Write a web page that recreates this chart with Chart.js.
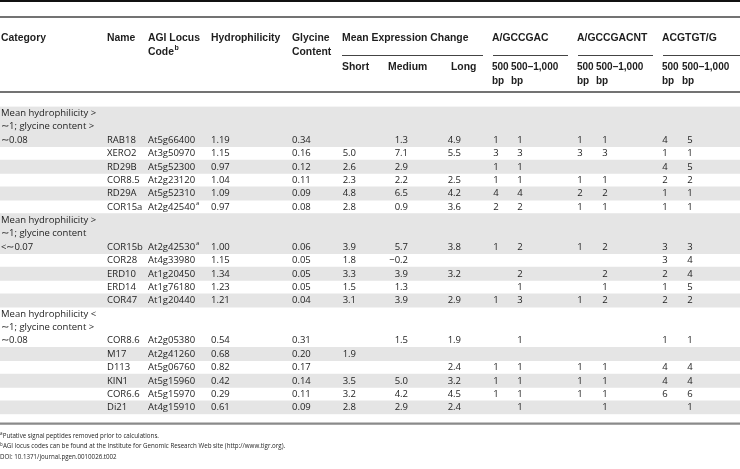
<!DOCTYPE html>
<html>
<head>
<meta charset="utf-8">
<script src="https://cdn.jsdelivr.net/npm/chart.js@4.4.0/dist/chart.umd.min.js"></script>
<style>
  html, body { margin: 0; padding: 0; background: #fff; }
  #wrap { width: 740px; height: 469px; }
</style>
</head>
<body>
<div id="wrap"><canvas id="tableChart"></canvas></div>
<script>
// Table data
var groupLabels = [
    ["Mean hydrophilicity >", "\u223C1; glycine content >", "\u223C0.08"],
    ["Mean hydrophilicity >", "\u223C1; glycine content", "<\u223C0.07"],
    ["Mean hydrophilicity <", "\u223C1; glycine content >", "\u223C0.08"]
];
var groupSizes = [6, 5, 6];

var names = ["RAB18", "XERO2", "RD29B", "COR8.5", "RD29A", "COR15a",
    "COR15b", "COR28", "ERD10", "ERD14", "COR47",
    "COR8.6", "M17", "D113", "KIN1", "COR6.6", "Di21"];
var locusCodes = ["At5g66400", "At3g50970", "At5g52300", "At2g23120", "At5g52310", "At2g42540",
    "At2g42530", "At4g33980", "At1g20450", "At1g76180", "At1g20440",
    "At2g05380", "At2g41260", "At5g06760", "At5g15960", "At5g15970", "At4g15910"];
var codeNotes = ["", "", "", "", "", "a", "a", "", "", "", "", "", "", "", "", "", ""];
var hydrophilicity = [1.19, 1.15, 0.97, 1.04, 1.09, 0.97, 1.00, 1.15, 1.34, 1.23, 1.21,
    0.54, 0.68, 0.82, 0.42, 0.29, 0.61];
var glycine = [0.34, 0.16, 0.12, 0.11, 0.09, 0.08, 0.06, 0.05, 0.05, 0.05, 0.04,
    0.31, 0.20, 0.17, 0.14, 0.11, 0.09];
var exprShort = [null, 5.0, 2.6, 2.3, 4.8, 2.8, 3.9, 1.8, 3.3, 1.5, 3.1,
    null, 1.9, null, 3.5, 3.2, 2.8];
var exprMedium = [1.3, 7.1, 2.9, 2.2, 6.5, 0.9, 5.7, -0.2, 3.9, 1.3, 3.9,
    1.5, null, null, 5.0, 4.2, 2.9];
var exprLong = [4.9, 5.5, null, 2.5, 4.2, 3.6, 3.8, null, 3.2, null, 2.9,
    1.9, null, 2.4, 3.2, 4.5, 2.4];
var gccgac500 = [1, 3, 1, 1, 4, 2, 1, null, null, null, 1, null, null, 1, 1, 1, null];
var gccgac1000 = [1, 3, 1, 1, 4, 2, 2, null, 2, 1, 3, 1, null, 1, 1, 1, 1];
var gccgacnt500 = [1, 3, null, 1, 2, 1, 1, null, null, null, 1, null, null, 1, 1, 1, null];
var gccgacnt1000 = [1, 3, null, 1, 2, 1, 2, null, 2, 1, 2, null, null, 1, 1, 1, 1];
var acgtgt500 = [4, 1, 4, 2, 1, 1, 3, 3, 2, 1, 2, 1, null, 4, 4, 6, null];
var acgtgt1000 = [5, 1, 5, 2, 1, 1, 3, 4, 4, 5, 2, 1, null, 4, 4, 6, 1];

var footnotes = [
    ["a", "Putative signal peptides removed prior to calculations."],
    ["b", "AGI locus codes can be found at the Institute for Genomic Research Web site (http://www.tigr.org)."],
    ["", "DOI: 10.1371/journal.pgen.0010026.t002"]
];

// Layout
var W = 740;
var fontReg = "9.5px 'Open Sans', 'Liberation Sans', sans-serif";
var fontBold = "bold 10.4px 'Liberation Sans', Arial, sans-serif";
var fontBoldSmall = "bold 10px 'Liberation Sans', Arial, sans-serif";
var fontNote = "6.2px 'Open Sans', 'Liberation Sans', sans-serif";
var textColor = "#1e1e1e";
var shadeColor = "#e5e5e5";

function fmt(v, d) {
    if (v === null || v === undefined) return "";
    return (v < 0 ? "\u2212" : "") + Math.abs(v).toFixed(d);
}

var columns = [
    { x: 107, align: "left", cell: function(i) { return names[i]; } },
    { x: 148, align: "left", cell: function(i) { return locusCodes[i]; }, note: function(i) { return codeNotes[i]; } },
    { x: 211, align: "left", cell: function(i) { return fmt(hydrophilicity[i], 2); } },
    { x: 292, align: "left", cell: function(i) { return fmt(glycine[i], 2); } },
    { x: 356, align: "right", cell: function(i) { return fmt(exprShort[i], 1); } },
    { x: 408, align: "right", cell: function(i) { return fmt(exprMedium[i], 1); } },
    { x: 461, align: "right", cell: function(i) { return fmt(exprLong[i], 1); } },
    { x: 496, align: "center", cell: function(i) { return fmt(gccgac500[i], 0); } },
    { x: 520, align: "center", cell: function(i) { return fmt(gccgac1000[i], 0); } },
    { x: 580, align: "center", cell: function(i) { return fmt(gccgacnt500[i], 0); } },
    { x: 605, align: "center", cell: function(i) { return fmt(gccgacnt1000[i], 0); } },
    { x: 665, align: "center", cell: function(i) { return fmt(acgtgt500[i], 0); } },
    { x: 690, align: "center", cell: function(i) { return fmt(acgtgt1000[i], 0); } }
];

// header texts: [text, x, line, superscript, small]
var headerLineY = [38, 52, 67, 81];
var headerTexts = [
    ["Category", 1, 0], ["Name", 107, 0], ["AGI Locus", 148, 0], ["Code", 148, 1, "b"],
    ["Hydrophilicity", 211, 0], ["Glycine", 292, 0], ["Content", 292, 1],
    ["Mean Expression Change", 342, 0],
    ["Short", 342, 2], ["Medium", 388, 2], ["Long", 451, 2],
    ["A/GCCGAC", 492, 0], ["500", 492, 2, "", 1], ["bp", 492, 3, "", 1], ["500\u20131,000", 511, 2, "", 1], ["bp", 511, 3, "", 1],
    ["A/GCCGACNT", 577, 0], ["500", 577, 2, "", 1], ["bp", 577, 3, "", 1], ["500\u20131,000", 596, 2, "", 1], ["bp", 596, 3, "", 1],
    ["ACGTGT/G", 662, 0], ["500", 662, 2, "", 1], ["bp", 662, 3, "", 1], ["500\u20131,000", 682, 2, "", 1], ["bp", 682, 3, "", 1]
];
var spanners = [[342, 483], [493, 568], [578, 653], [663, 740]];

// build body lines: each group has label lines, last label line shares the first gene row
var lines = [];
var geneStart = 0;
groupLabels.forEach(function(lbls, g) {
    var shadeFirst = geneStart % 2 === 0;
    for (var k = 0; k < lbls.length - 1; k++) {
        lines.push({ label: lbls[k], gene: null, shaded: shadeFirst });
    }
    for (var j = 0; j < groupSizes[g]; j++) {
        var gi = geneStart + j;
        lines.push({ label: j === 0 ? lbls[lbls.length - 1] : "", gene: gi, shaded: gi % 2 === 0 });
    }
    geneStart += groupSizes[g];
});

var lineLabels = lines.map(function(l, i) { return "line" + i; });
var shadeBars = lines.map(function(l) { return l.shaded ? [0, W] : null; });

function drawRule(c, xs, x0, x1, y, width, color) {
    c.save();
    c.strokeStyle = color;
    c.lineWidth = width;
    c.beginPath();
    c.moveTo(xs.getPixelForValue(x0), y);
    c.lineTo(xs.getPixelForValue(x1), y);
    c.stroke();
    c.restore();
}

var tablePlugin = {
    id: "tableText",
    afterDatasetsDraw: function(chart) {
        var c = chart.ctx;
        var xs = chart.scales.x;
        var ys = chart.scales.y;
        var area = chart.chartArea;

        c.save();
        c.fillStyle = textColor;
        c.textBaseline = "middle";

        // header
        headerTexts.forEach(function(h) {
            c.font = h[4] ? fontBoldSmall : fontBold;
            c.textAlign = "left";
            var px = xs.getPixelForValue(h[1]);
            var py = headerLineY[h[2]];
            c.fillText(h[0], px, py);
            if (h[3]) {
                var w = c.measureText(h[0]).width;
                c.font = "bold 7px 'Liberation Sans', Arial, sans-serif";
                c.fillText(h[3], px + w + 0.5, py - 4);
            }
        });

        // body
        lines.forEach(function(l, li) {
            var py = ys.getPixelForValue(li);
            c.font = fontReg;
            c.textAlign = "left";
            if (l.label) c.fillText(l.label, xs.getPixelForValue(1), py);
            if (l.gene === null) return;
            columns.forEach(function(col) {
                var t = col.cell(l.gene);
                if (!t) return;
                c.font = fontReg;
                c.textAlign = col.align;
                var px = xs.getPixelForValue(col.x);
                c.fillText(t, px, py);
                if (col.note && col.note(l.gene)) {
                    var w = c.measureText(t).width;
                    c.font = "6px 'Open Sans', 'Liberation Sans', sans-serif";
                    c.textAlign = "left";
                    c.fillText(col.note(l.gene), px + w + 0.8, py - 4);
                }
            });
        });

        // footnotes
        var noteY = [436, 446.5, 457];
        footnotes.forEach(function(f, i) {
            var px = xs.getPixelForValue(0);
            c.textAlign = "left";
            var off = 0;
            if (f[0]) {
                c.font = "4.5px 'Open Sans', 'Liberation Sans', sans-serif";
                c.fillText(f[0], px, noteY[i] - 2);
                off = c.measureText(f[0]).width + 0.2;
            }
            c.font = fontNote;
            c.fillText(f[1], px + off, noteY[i]);
        });
        c.restore();

        // rules
        drawRule(c, xs, 0, W, 1, 2, "#111");
        drawRule(c, xs, 0, W, 17, 1.3, "#444");
        spanners.forEach(function(s) { drawRule(c, xs, s[0], s[1], 55.5, 1, "#444"); });
        drawRule(c, xs, 0, W, 92, 1.6, "#444");
        drawRule(c, xs, 0, W, area.bottom + 9.3, 2.2, "#8a8a8a");
    }
};

var ctx = document.getElementById("tableChart").getContext("2d");
var tableChart = new Chart(ctx, {
    type: "bar",
    data: {
        labels: lineLabels,
        datasets: [{
            data: shadeBars,
            backgroundColor: shadeColor,
            borderWidth: 0,
            barPercentage: 1,
            categoryPercentage: 1
        }]
    },
    options: {
        indexAxis: "y",
        responsive: true,
        maintainAspectRatio: false,
        animation: false,
        layout: { padding: { top: 106.6, bottom: 54.7, left: 0, right: 0 } },
        scales: {
            x: { type: "linear", min: 0, max: W, display: false },
            y: { type: "category", display: false }
        },
        plugins: {
            legend: { display: false },
            tooltip: { enabled: false }
        }
    },
    plugins: [tablePlugin]
});
</script>
</body>
</html>
